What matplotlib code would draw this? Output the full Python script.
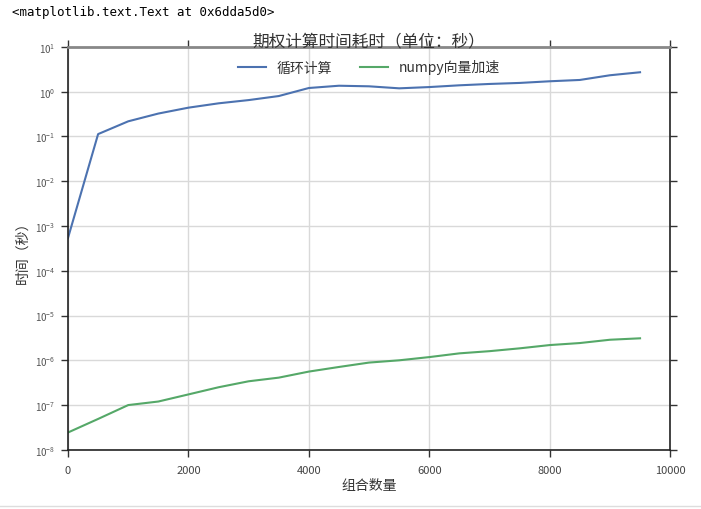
import matplotlib
matplotlib.use("Agg")
import matplotlib.pyplot as plt
from matplotlib.lines import Line2D

plt.rcParams['font.family'] = ['Noto Sans CJK SC', 'DejaVu Sans']
plt.rcParams['mathtext.fontset'] = 'stix'

# data
sizes = [0, 500, 1000, 1500, 2000, 2500, 3000, 3500, 4000, 4500,
         5000, 5500, 6000, 6500, 7000, 7500, 8000, 8500, 9000, 9500]
loop_time = [5.4e-4, 0.113, 0.218, 0.325, 0.44, 0.55, 0.65, 0.80, 1.21, 1.36,
             1.32, 1.19, 1.27, 1.39, 1.49, 1.57, 1.71, 1.83, 2.33, 2.72]
numpy_time = [2.44e-8, 4.9e-8, 1.0e-7, 1.2e-7, 1.73e-7, 2.5e-7, 3.4e-7, 4.1e-7, 5.6e-7, 7.1e-7,
              8.9e-7, 1.0e-6, 1.18e-6, 1.43e-6, 1.6e-6, 1.85e-6, 2.19e-6, 2.43e-6, 2.88e-6, 3.1e-6]
series_names = ['循环计算', 'numpy向量加速']
title = '期权计算时间耗时（单位：秒）'
xlabel = '组合数量'
ylabel = '时间（秒）'

fig = plt.figure(figsize=(7.01, 5.10), dpi=100)
ax = fig.add_axes([0.097, 0.116, 0.859, 0.790])

ax.plot(sizes, loop_time, color='#4C72B0', lw=1.5, label=series_names[0])
ax.plot(sizes, numpy_time, color='#55A868', lw=1.5, label=series_names[1])
ax.set_yscale('log')
ax.set_xlim(0, 10000)
ax.set_ylim(1e-8, 1e1)
ax.set_xticks([0, 2000, 4000, 6000, 8000, 10000])
ax.set_yticks([10.0**k for k in range(-8, 2)])
ax.minorticks_off()

ax.grid(True, color='#d9d9d9', lw=1.0)
ax.set_axisbelow(True)
for s in ['left', 'bottom', 'right']:
    ax.spines[s].set_color('#222222')
    ax.spines[s].set_linewidth(1.2)
ax.spines['top'].set_color('#888888')
ax.spines['top'].set_linewidth(2.0)

ax.tick_params(axis='both', which='major', direction='out', length=5, width=1.0,
               color='#333333', top=True, right=True)
ax.tick_params(axis='x', labelsize=8, labelcolor='#444444', pad=6)
ax.tick_params(axis='y', labelsize=7, labelcolor='#555555', pad=4)

ax.set_title(title, fontsize=12, color='#333333', pad=1)
ax.set_xlabel(xlabel, fontsize=10, color='#333333', labelpad=2)
ax.set_ylabel(ylabel, fontsize=10, color='#333333', labelpad=4)

leg = ax.legend(loc='upper center', ncol=2, frameon=False, fontsize=10,
                bbox_to_anchor=(0.5, 1.0), handlelength=2, columnspacing=2)
for t in leg.get_texts():
    t.set_color('#333333')

fig.text(0.017, 0.975, '<matplotlib.text.Text at 0x6dda5d0>', family='DejaVu Sans Mono',
         fontsize=9, va='center', ha='left', color='black')
fig.add_artist(Line2D([0, 1], [0.006, 0.006], transform=fig.transFigure,
                      color='#dddddd', lw=1))

fig.savefig('out.png', dpi=100, facecolor='white')
